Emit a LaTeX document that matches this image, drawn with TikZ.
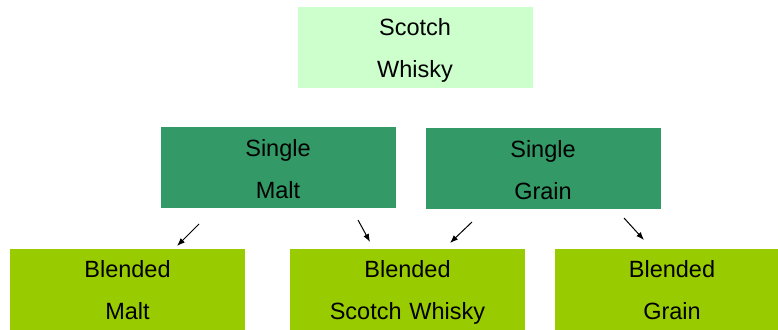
\documentclass[tikz,border=0pt]{standalone}
\usepackage{fontspec}
\setmainfont{Liberation Sans}
\usetikzlibrary{arrows.meta}
\definecolor{paleg}{HTML}{CCFFCC}
\definecolor{singleg}{HTML}{339966}
\definecolor{blendg}{HTML}{99CC00}
\begin{document}
\begin{tikzpicture}[x=1pt, y=-1pt,
  main/.style = {fill, text width=235pt, minimum height=81pt, inner sep=0pt, align=center, text=black, font=\fontsize{23.5}{42}\selectfont,
    execute at begin node={\rule{0pt}{29pt}}, execute at end node={\rule[-10pt]{0pt}{10pt}}},
  arr/.style = {-{Latex[length=8pt,width=6pt]}, line width=1pt}]
\clip (0,0) rectangle (778,329);
\fill[white] (0,0) rectangle (778,329);

\node[main, fill=paleg] (scotch) at (415,47.5) {Scotch\\Whisky};
\node[main, fill=singleg] (malt) at (278,167.5) {Single\\Malt};
\node[main, fill=singleg] (grain) at (543,168.5) {Single\\Grain};
\node[main, fill=blendg] (bmalt) at (127.5,289) {Blended\\Malt};
\node[main, fill=blendg] (bscotch) at (407.5,289) {Blended\\Scotch Whisky};
\node[main, fill=blendg] (bgrain) at (672,289) {Blended\\Grain};

\coordinate (a1) at (199,224); \coordinate (b1) at (177,246);
\coordinate (a2) at (358,220); \coordinate (b2) at (370,242);
\coordinate (a3) at (472,222); \coordinate (b3) at (450,243);
\coordinate (a4) at (624,218); \coordinate (b4) at (644,240);

\draw[arr] (a1) -- (b1);
\draw[arr] (a2) -- (b2);
\draw[arr] (a3) -- (b3);
\draw[arr] (a4) -- (b4);
\end{tikzpicture}
\end{document}
